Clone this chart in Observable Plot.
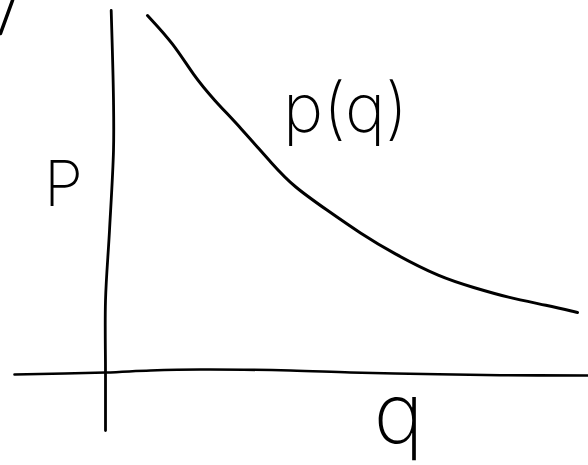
<!DOCTYPE html>
<html>
<head>
<meta charset="utf-8">
<script src="https://cdn.jsdelivr.net/npm/d3@7"></script>
<script src="https://cdn.jsdelivr.net/npm/@observablehq/plot@0.6"></script>
<style>
  html, body { margin: 0; padding: 0; background: #fff; overflow: hidden; }
  svg { display: block; }
</style>
</head>
<body>
<div id="chart"></div>
<script>
// Demand curve p(q) — sketched values (q, p), origin at axis crossing
const curveQ = [4.2, 6.8, 8.8, 10.8, 13.5, 16.8, 18.8, 22.2, 25.5, 28.8, 33.5, 36.8, 40.2, 44.2, 47.2];
const curveP = [35.7, 32.9, 29.7, 27.3, 24.5, 20.7, 18.6, 16.2, 13.9, 11.9, 9.5, 8.5, 7.5, 6.7, 6.0];

// Hand-drawn vertical (p) axis
const pAxisQ = [0.57, 0.8, 0.8, 0.4, 0.0, 0.0, 0.0];
const pAxisP = [36.2, 27.2, 22.2, 14.2, 7.2, 0.0, -5.8];

// Hand-drawn horizontal (q) axis
const qAxisQ = [-9.1, 0.0, 4.5, 9.5, 18.5, 24.5, 33.3, 39.5, 48.3];
const qAxisP = [-0.2, 0.0, 0.2, 0.3, 0.2, 0.0, -0.17, -0.27, -0.3];

// Stray stroke at the top-left corner
const strayQ = [-9.3, -10.5];
const strayP = [37.2, 33.9];

// Labels
const labelText = ["P", "p(q)", "q"];
const labelQ = [-4.2, 24.0, 29.3];
const labelP = [18.7, 26.2, -4.4];
const labelSize = [63, 68, 84];

const toRows = (qs, ps) => qs.map((q, i) => ({q, p: ps[i]}));
const curve = toRows(curveQ, curveP);
const pAxis = toRows(pAxisQ, pAxisP);
const qAxis = toRows(qAxisQ, qAxisP);
const stray = toRows(strayQ, strayP);
const labels = labelText.map((t, i) => ({t, q: labelQ[i], p: labelP[i], s: labelSize[i]}));

const font = "Inter, Roboto, 'Open Sans', Lato, sans-serif";

const chart = Plot.plot({
  width: 588,
  height: 465,
  margin: 0,
  x: {domain: [-10.5, 48.3], axis: null},
  y: {domain: [-9.3, 37.2], axis: null},
  marks: [
    Plot.line(qAxis, {x: "q", y: "p", stroke: "black", strokeWidth: 2.6, curve: "catmull-rom"}),
    Plot.line(pAxis, {x: "q", y: "p", stroke: "black", strokeWidth: 2.8, curve: "catmull-rom"}),
    Plot.line(curve, {x: "q", y: "p", stroke: "black", strokeWidth: 3, curve: "basis"}),
    Plot.line(stray, {x: "q", y: "p", stroke: "black", strokeWidth: 3.5}),
    ...labels.map(d => Plot.text([d], {
      x: "q", y: "p", text: "t",
      fontSize: d.s, fontFamily: font, fontWeight: 200,
      fill: "black", textAnchor: "middle", lineAnchor: "middle"
    }))
  ]
});
document.getElementById("chart").appendChild(chart);
</script>
</body>
</html>
